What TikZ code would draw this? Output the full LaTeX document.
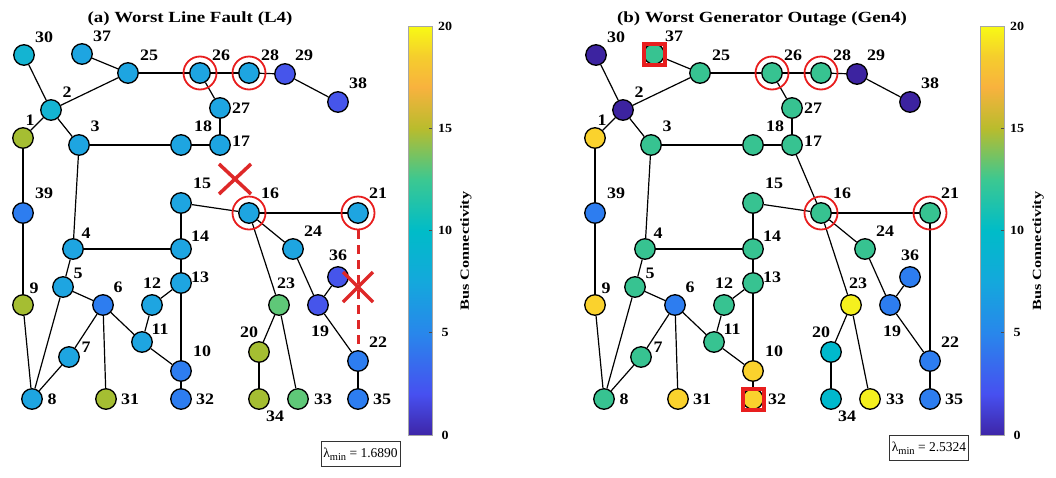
\documentclass[tikz,border=0pt]{standalone}
\usepackage{fontspec}
\setmainfont{Liberation Serif}
\usepackage{graphicx}
\usetikzlibrary{backgrounds}
% node colours
\definecolor{lb}{RGB}{30,165,225}
\definecolor{cy}{RGB}{20,180,210}
\definecolor{pu}{RGB}{70,85,235}
\definecolor{ol}{RGB}{165,190,50}
\definecolor{bl}{RGB}{45,125,240}
\definecolor{gr}{RGB}{95,200,120}
\definecolor{dp}{RGB}{60,35,160}
\definecolor{tg}{RGB}{55,195,145}
\definecolor{go}{RGB}{250,210,45}
\definecolor{ye}{RGB}{245,240,30}
\definecolor{cz}{RGB}{0,185,205}
\definecolor{hired}{RGB}{232,30,30}
\definecolor{xred}{RGB}{222,40,40}
% colour bar
\definecolor{pa0}{RGB}{62,38,168}
\definecolor{pa2}{RGB}{71,80,240}
\definecolor{pa5}{RGB}{40,135,235}
\definecolor{pa75}{RGB}{20,168,220}
\definecolor{pa10}{RGB}{0,188,200}
\definecolor{pa125}{RGB}{60,200,145}
\definecolor{pa15}{RGB}{185,188,45}
\definecolor{pa17}{RGB}{248,178,62}
\definecolor{pa185}{RGB}{245,205,45}
\definecolor{pa20}{RGB}{248,250,20}
\pgfdeclareverticalshading{parula}{100bp}{color(0bp)=(pa0); color(25bp)=(pa0); color(30bp)=(pa2); color(37.5bp)=(pa5); color(43.75bp)=(pa75); color(50bp)=(pa10); color(56.25bp)=(pa125); color(62.5bp)=(pa15); color(67.5bp)=(pa17); color(71.25bp)=(pa185); color(75bp)=(pa20); color(100bp)=(pa20)}
\newcommand{\sx}[2]{\scalebox{#1}[1]{#2}}
\newcommand{\lmin}{λ\raisebox{-3.5pt}{\fontsize{10.5}{10.5}\selectfont min}}
\begin{document}
\begin{tikzpicture}[x=1pt,y=-1pt,
  bus/.style={circle, draw=black, line width=1.3pt, minimum size=20.5pt, inner sep=0pt},
  lab/.style={font=\fontsize{16}{16}\selectfont\bfseries, inner sep=0pt},
  edge/.style={draw=black, line width=1.2pt},
  ring/.style={circle, draw=hired, line width=1.8pt, minimum size=33pt, inner sep=0pt},
  redsq/.style={rectangle, draw=hired, line width=4pt, minimum size=21pt, inner sep=0pt},
  redx/.style={draw=xred, line width=3.5pt},
  faultline/.style={draw=xred, line width=3pt, dash pattern=on 9pt off 6pt},
  ttl/.style={font=\fontsize{15.5}{16}\selectfont\bfseries, inner sep=0pt},
  cbar/.style={rectangle, draw=gray!70, line width=0.6pt, shading=parula, minimum width=24pt, minimum height=409pt, inner sep=0pt},
  cbtick/.style={draw=gray!60!black, line width=0.6pt},
  ticklab/.style={font=\fontsize{12.5}{12.5}\selectfont\bfseries, inner sep=0pt},
  cblab/.style={font=\fontsize{12.5}{12.5}\selectfont\bfseries, inner sep=0pt, rotate=90},
  lbox/.style={rectangle, draw=black!80, line width=0.8pt, minimum width=79pt, minimum height=25pt, inner sep=1pt, font=\fontsize{13.5}{14}\selectfont}
]
\useasboundingbox (0,0) rectangle (1056,477);

% titles
\node[ttl] (ta) at (190,19) {\sx{1.22}{(a) Worst Line Fault (L4)}};
\node[ttl] (tb) at (762,19) {\sx{1.22}{(b) Worst Generator Outage (Gen4)}};

% buses: name / x / y / colour (a) / colour (b) / label x / label y
\foreach \n/\x/\y/\ca/\cb/\lx/\ly in {
30/24/55/cy/dp/44/37,
37/82/54/lb/tg/102/36,
25/128/73/lb/tg/149/55,
26/200/73/lb/tg/221/55,
28/249/73/lb/tg/270/55,
29/285/74/pu/dp/304/55,
38/338/102/pu/dp/358/83,
2/51/110/cy/dp/67/92,
27/220/108/lb/tg/241/108,
1/23/138/ol/go/30/120,
3/79/145/lb/tg/95/126,
18/181/145/lb/tg/203/126,
17/220/145/lb/tg/241/141,
15/181/203/lb/tg/202/183,
16/249/213/lb/tg/270/193,
21/358/213/lb/tg/378/193,
39/23/213/bl/bl/44/193,
4/73/249/lb/tg/86/233,
14/181/249/lb/tg/200/236,
24/293/249/lb/tg/313/231,
36/338/277/pu/bl/338/255,
5/63/287/lb/tg/78/273,
13/181/283/lb/tg/200/277,
6/103/305/bl/bl/118/287,
12/152/305/lb/tg/152/283,
23/279/305/gr/ye/286/283,
19/318/305/pu/bl/320/331,
9/23/305/ol/go/34/288,
11/142/342/lb/tg/160/329,
7/69/357/lb/tg/86/347,
10/181/371/bl/go/202/351,
20/259/352/ol/cz/249/332,
22/358/361/bl/bl/378/342,
8/32/399/lb/tg/52/399,
31/106/399/ol/go/130/399,
32/181/399/bl/go/205/399,
34/259/399/ol/cz/275/416,
33/298/399/gr/ye/323/399,
35/358/399/bl/bl/382/399}{
  \node[bus, fill=\ca] (a\n) at (\x,\y) {};
  \node[bus, fill=\cb] (b\n) at (\x+572,\y) {};
  \node[lab] (la\n) at (\lx,\ly) {\sx{1.12}{\n}};
  \node[lab] (lb\n) at (\lx+572,\ly) {\sx{1.12}{\n}};
}

% red squares (panel b)
\node[redsq] (sq37) at (b37) {};
\node[redsq] (sq32) at (b32) {};

% red rings
\foreach \n in {26,28,16,21}{
  \node[ring] (ra\n) at (a\n) {};
  \node[ring] (rb\n) at (b\n) {};
}

% connectors
\begin{scope}[on background layer]
\fill[white] (0,0) rectangle (1056,477);
\foreach \u/\v in {30/2, 37/25, 25/2, 25/26, 26/28, 28/29, 29/38, 26/27, 27/17, 17/18, 18/3, 3/2, 2/1, 1/39, 39/9, 9/8, 3/4, 4/14, 4/5, 14/15, 14/13, 15/16, 16/21, 16/24, 16/23, 24/19, 19/36, 19/22, 22/35, 13/12, 12/11, 11/6, 13/10, 10/11, 10/32, 6/5, 6/7, 7/8, 5/8, 6/31, 23/20, 20/34, 23/33}{
  \draw[edge] (a\u) -- (a\v);
  \draw[edge] (b\u) -- (b\v);
}
\draw[edge] (b17) -- (b16);
\draw[edge] (b21) -- (b22);
\end{scope}

% faulted line in panel a
\draw[faultline] (ra21.south) -- (a22.north);
\coordinate (xa) at (235,179);
\coordinate (xb) at (358,287);
\draw[redx, shift={(xa)}] (-16,-15) -- (16,15) (-16,15) -- (16,-15);
\draw[redx, shift={(xb)}] (-15,-15) -- (15,15) (-15,15) -- (15,-15);

% lambda boxes
\node[lbox] (lama) at (360.5,454) {\lmin{} = 1.6890};
\node[lbox] (lamb) at (929,448) {\lmin{} = 2.5324};

% colour bars
\foreach \p/\cx in {a/420, b/992}{
  \node[cbar] (cb\p) at (\cx,230.5) {};
  \foreach \v in {5,10,15}{
    \draw[cbtick] (\cx+12,435-\v*20.45) -- (\cx+9,435-\v*20.45);
  }
  \foreach \v in {0,5,10,15,20}{
    \node[ticklab] (tk\p\v) at (\cx+25,435-\v*20.45) {\sx{1.12}{\v}};
  }
  \node[cblab] (cl\p) at (\cx+46,251) {\sx{1.3}{Bus Connectivity}};
}
\end{tikzpicture}
\end{document}
